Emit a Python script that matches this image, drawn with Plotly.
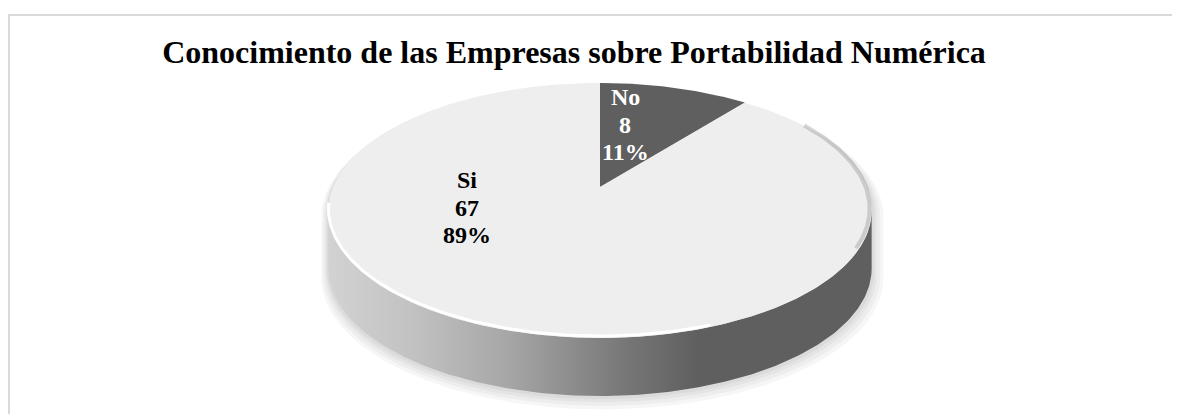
import numpy as np
import plotly.graph_objects as go

# ---- data ----
labels = ["No", "Si"]
values = [8, 67]
slice_colors = ["#5f5f5f", "#eeeeee"]
label_colors = ["white", "black"]
title_text = "Conocimiento de las Empresas sobre Portabilidad Numérica"

# ---- layout / geometry (styling) ----
W, H = 1180, 414
OFF = 8                    # page body margin offset
CX, CY = 600.0, 187.0      # screen position of pie centre
A, B, K = 267.0, 123.2, 0.184  # perspective projection params
DEPTH = 58
LBL_SIZE = 24
LINE_GAP = 27.5
label_first_line = {"No": (625, 97), "Si": (467, 180)}


def proj(a_deg, dy=0.0):
    a = np.radians(np.asarray(a_deg, dtype=float))
    X, Y = np.sin(a), np.cos(a)
    d = 1 + K * Y
    return CX + A * X / d, CY - B * Y / d + dy


total = sum(values)
fracs = [v / total for v in values]
pcts = [int(round(f * 100)) for f in fracs]

bounds = [0.0]
for f in fracs:
    bounds.append(bounds[-1] + 360.0 * f)

a_edge = np.degrees(np.arccos(-K))

fig = go.Figure()

# ---- soft shadow ----
back = np.linspace(-a_edge, a_edge, 200)
front = np.linspace(a_edge, 360 - a_edge, 200)
bx, by = proj(back)
fx, fy = proj(front, DEPTH)
ox = np.concatenate([bx, fx])
oy = np.concatenate([by, fy])
ccx, ccy = CX, 240.0
for s, off in [(1.035, 8), (1.025, 6), (1.015, 4), (1.008, 2)]:
    fig.add_trace(go.Scatter(
        x=ccx + (ox - ccx) * s + off * 0.3, y=ccy + (oy - ccy) * s + off,
        fill="toself", fillcolor="rgba(0,0,0,0.035)", line=dict(width=0),
        mode="lines", hoverinfo="skip", showlegend=False))

# ---- side wall ----
sx_top, sy_top = proj(front)
sx_bot, sy_bot = proj(front[::-1], DEPTH)
fig.add_trace(go.Scatter(
    x=np.concatenate([sx_top, sx_bot, sx_top[:1]]),
    y=np.concatenate([sy_top, sy_bot, sy_top[:1]]),
    fill="toself",
    fillgradient=dict(type="horizontal", start=330, stop=872,
                      colorscale=[[0, "#d2d2d2"], [0.15, "#c2c2c2"], [0.33, "#a6a6a6"],
                                  [0.55, "#767676"], [0.68, "#5f5f5f"], [1, "#5f5f5f"]]),
    line=dict(width=0), mode="lines", hoverinfo="skip", showlegend=False))

# ---- top faces ----
for lab, c, a0, a1 in zip(labels, slice_colors, bounds[:-1], bounds[1:]):
    arc = np.linspace(a0, a1, max(int((a1 - a0) * 2), 20))
    px, py = proj(arc)
    fig.add_trace(go.Scatter(
        x=np.concatenate([[CX], px, [CX]]), y=np.concatenate([[CY], py, [CY]]),
        fill="toself", fillcolor=c, line=dict(width=0, color=c), mode="lines",
        name=lab, hoverinfo="skip", showlegend=False))

# ---- bevel highlights ----
hx, hy = proj(np.linspace(262, 160, 120), -2)
fig.add_trace(go.Scatter(x=hx, y=hy, mode="lines",
                         line=dict(color="rgba(255,255,255,0.95)", width=3),
                         hoverinfo="skip", showlegend=False))
rx, ry = proj(np.linspace(58, 118, 80), -2)
fig.add_trace(go.Scatter(x=rx - 2, y=ry, mode="lines",
                         line=dict(color="rgba(150,150,150,0.4)", width=4),
                         hoverinfo="skip", showlegend=False))

# ---- labels (one annotation per line) ----
annotations = []
for lab, v, p, tc in zip(labels, values, pcts, label_colors):
    x, y0 = label_first_line[lab]
    for i, line in enumerate([lab, str(v), f"{p}%"]):
        annotations.append(dict(
            x=x, y=y0 + i * LINE_GAP, xref="x", yref="y", showarrow=False,
            text=f"<b>{line}</b>",
            font=dict(family="Liberation Serif", size=LBL_SIZE, color=tc),
            xanchor="center", yanchor="middle", align="center"))

# ---- frame ----
shapes = [dict(type="path", xref="x", yref="y",
               path=f"M {OFF + 1},{H + OFF + 5} L {OFF + 1},15 L {W + OFF + 5},15",
               line=dict(color="#d9d9d9", width=2))]

fig.update_layout(
    width=W, height=H, margin=dict(l=0, r=0, t=0, b=0),
    paper_bgcolor="white", plot_bgcolor="white",
    title=dict(text=f"<b>{title_text}</b>", x=(574 - OFF) / W, xanchor="center",
               y=1 - (52 - OFF) / H, yanchor="middle",
               font=dict(family="Liberation Serif", size=32, color="black")),
    xaxis=dict(range=[OFF, W + OFF], visible=False, fixedrange=True),
    yaxis=dict(range=[H + OFF, OFF], visible=False, fixedrange=True),
    annotations=annotations, shapes=shapes, showlegend=False,
)

fig.write_html("out.html")
